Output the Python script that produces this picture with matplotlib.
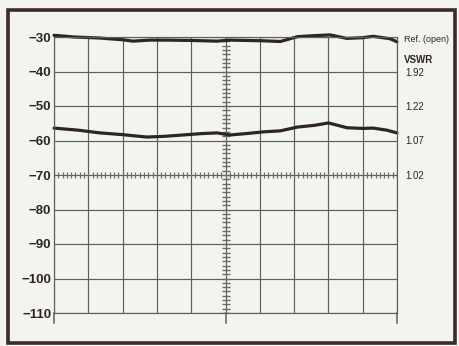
#!/usr/bin/env python3
# -*- coding: utf-8 -*-
"""Reflection trace plot (dB vs. divisions) with VSWR scale on the right."""

import numpy as np
import matplotlib
matplotlib.use("Agg")
import matplotlib.pyplot as plt
from matplotlib.patches import Rectangle

# ---- data ----
ref_x = [0.0, 0.6, 1.34, 2.0, 2.3, 2.8, 3.3, 4.0, 4.75, 5.13, 6.1, 6.6, 7.1, 7.6, 8.05, 8.54, 9.0, 9.3, 9.8, 10.0]
ref_db = [-29.5, -30.0, -30.3, -30.8, -31.2, -30.9, -30.9, -31.0, -31.2, -30.9, -31.1, -31.3, -29.9, -29.6, -29.4, -30.4, -30.2, -29.8, -30.5, -31.4]

meas_x = [0.0, 0.7, 1.34, 2.0, 2.7, 3.2, 3.76, 4.3, 4.75, 5.13, 5.6, 6.1, 6.6, 7.1, 7.6, 8.0, 8.54, 9.0, 9.3, 9.7, 10.0]
meas_db = [-56.4, -57.0, -57.8, -58.3, -59.0, -58.8, -58.4, -58.0, -57.8, -58.4, -58.0, -57.5, -57.2, -56.1, -55.6, -54.9, -56.3, -56.5, -56.4, -57.0, -57.8]

y_ticks = [-30, -40, -50, -60, -70, -80, -90, -100, -110]
y_labels = ["\u221230", "\u221240", "\u221250", "\u221260", "\u221270",
            "\u221280", "\u221290", "\u2212100", "\u2212110"]
vswr_ticks = [-40, -50, -60, -70]
vswr_labels = ["1.92", "1.22", "1.07", "1.02"]

BG = "#f4f4ee"
INK = "#2e2424"
GRID = "#5e5e5e"
HATCH = "#6a6a6a"

plt.rcParams["font.family"] = ["Liberation Sans", "DejaVu Sans"]

fig = plt.figure(figsize=(4.6, 3.46), dpi=100, facecolor=BG)
ax = fig.add_axes([54 / 460, 33 / 346, 343 / 460, 276 / 346])
ax.set_facecolor(BG)

ax.set_xlim(0, 10)
ax.set_ylim(-110, -30)

# grid
ax.set_xticks(range(0, 11))
ax.set_yticks(y_ticks)
ax.grid(True, color=GRID, linewidth=0.85)
ax.tick_params(axis="x", which="major", length=0, labelbottom=False)
ax.set_yticklabels(y_labels, fontsize=9.5, fontweight="bold", color=INK)
ax.tick_params(axis="y", length=0, pad=2)
for s in ax.spines.values():
    s.set_color(GRID)
    s.set_linewidth(0.85)

# hatched centre line and -70 line
ax.plot(np.full(65, 5.0), np.linspace(-110, -30, 65), linestyle="none",
        marker="_", markersize=5.5, markeredgewidth=1.0, color=HATCH)
ax.plot(np.linspace(0, 10, 81), np.full(81, -70.0), linestyle="none",
        marker="|", markersize=4.5, markeredgewidth=0.9, color=HATCH)

# bottom ticks at start, centre and end
for xv in (0, 5, 10):
    ax.plot([xv, xv], [-110, -113], color=GRID, linewidth=1.1, clip_on=False)

# traces
ax.plot(ref_x, ref_db, color=INK, linewidth=2.3, solid_capstyle="round", clip_on=False)
ax.plot(meas_x, meas_db, color=INK, linewidth=2.3, solid_capstyle="round", clip_on=False)

# right-hand VSWR scale
ax2 = ax.twinx()
ax2.set_ylim(-110, -30)
ax2.set_yticks(vswr_ticks)
ax2.set_yticklabels(vswr_labels, fontsize=7, color=INK)
ax2.tick_params(axis="y", length=0, pad=6)
for s in ax2.spines.values():
    s.set_visible(False)

ax.annotate("Ref. (open)", xy=(10, -30.6), xytext=(5, 0), textcoords="offset points",
            fontsize=6.5, color=INK, va="center", ha="left", annotation_clip=False)
ax.annotate("VSWR", xy=(10, -36.8), xytext=(5, 0), textcoords="offset points",
            fontsize=7, color=INK, va="center", ha="left", fontweight="bold",
            annotation_clip=False)

# outer frame
fig.add_artist(Rectangle((8 / 460, 3 / 346), 447 / 460, 333 / 346,
                         transform=fig.transFigure, fill=False,
                         edgecolor="#3b2a2a", linewidth=2.6))

fig.savefig("out.png", dpi=100, facecolor=BG)
